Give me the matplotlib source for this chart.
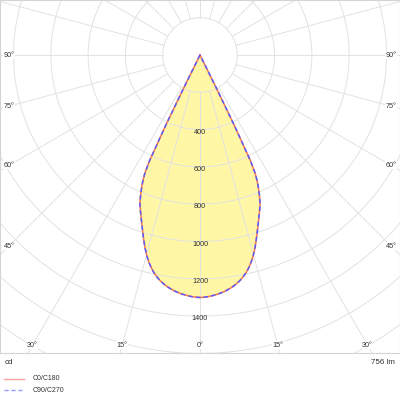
"""
Polar light distribution curve (LDC) of a narrow beam luminaire, drawn on a plain
cartesian axes so the diagram centre can sit near the top of the picture.
"""
import numpy as np
import matplotlib.pyplot as plt

# luminous intensity (cd) against angle from nadir (deg)
angles = [0, 1, 2, 3, 4, 5, 6, 7, 8, 9, 10, 11, 12, 13, 14, 15, 16, 17, 18, 19, 20,
          21, 22, 23, 24, 24.5, 25, 25.5, 26, 26.3, 26.5]
c0_c180 = [1300, 1299, 1296, 1292, 1287, 1281, 1274, 1265, 1255, 1243, 1229, 1212, 1192,
           1168, 1140, 1108, 1072, 1033, 995, 958, 924, 892, 860, 815, 765, 735, 700,
           630, 420, 200, 0]
c90_c270 = [1300, 1299, 1296, 1292, 1287, 1281, 1274, 1265, 1255, 1243, 1229, 1212, 1192,
            1168, 1140, 1108, 1072, 1033, 995, 958, 924, 892, 860, 815, 765, 735, 700,
            630, 420, 200, 0]

ring_values = [200, 400, 600, 800, 1000, 1200, 1400, 1600, 1800, 2000, 2200]
ring_labels = [400, 600, 800, 1000, 1200, 1400]
side_labels = [90, 75, 60, 45]
bottom_labels = [30, 15, 0]
series_names = ["C0/C180", "C90/C270"]
flux_text = "756 lm"
unit_text = "cd"

# pixels per candela
SCALE = 0.1865
GRID = "#e2e2e2"
TXT = "#333333"


def to_xy(ang, val):
    """mirror the half curve and turn polar (deg from nadir, cd) into x, y"""
    a = np.radians(np.concatenate([-np.array(ang[::-1]), np.array(ang[1:])]))
    v = np.concatenate([np.array(val[::-1]), np.array(val[1:])])
    return v * np.sin(a), -v * np.cos(a)


def draw_grid(ax):
    t = np.linspace(0, 2 * np.pi, 721)
    for r in ring_values:
        ax.plot(r * np.sin(t), r * np.cos(t), color=GRID, lw=0.7, zorder=2)
    for deg in range(0, 360, 15):
        a = np.radians(deg)
        ax.plot([200 * np.sin(a), 2400 * np.sin(a)], [-200 * np.cos(a), -2400 * np.cos(a)],
                color=GRID, lw=0.7, zorder=2)


def main():
    plt.rcParams['font.family'] = ['Liberation Sans', 'DejaVu Sans']
    fig = plt.figure(figsize=(4, 4), dpi=100)
    ax = fig.add_axes([0, 47 / 400, 1, 353 / 400])
    ax.set_xlim(-200 / SCALE, 200 / SCALE)
    ax.set_ylim(-298 / SCALE, 55 / SCALE)
    ax.set_aspect('equal')
    ax.set_xticks([])
    ax.set_yticks([])
    for sp in ax.spines.values():
        sp.set_color("#d4d4d4")
        sp.set_linewidth(0.8)

    draw_grid(ax)

    x0, y0 = to_xy(angles, c0_c180)
    x9, y9 = to_xy(angles, c90_c270)
    ax.fill(x0, y0, color="#fff7a6", lw=0, zorder=1)
    ax.plot(x0, y0, color="#f87848", lw=1.1, zorder=3)
    ax.plot(x9, y9, color="#5b5bff", lw=1.1, ls=(0, (3, 2)), zorder=4)

    # ring values down the 0 deg line
    for v in ring_labels:
        ax.text(0, -(v + 14), str(v), fontsize=5.2, color=TXT, ha='center', va='center', zorder=5)

    # angle labels along the sides and the bottom edge
    xs = 191 / SCALE
    for deg in side_labels:
        yy = -xs / np.tan(np.radians(deg)) if deg != 90 else 0
        for sgn in (-1, 1):
            ax.text(sgn * xs, yy, f"{deg}°", fontsize=5.2, color=TXT, ha='center', va='center',
                    zorder=5, bbox=dict(fc='white', ec='none', pad=0.3))
    yb = -290 / SCALE
    for deg in bottom_labels:
        xx = -yb * np.tan(np.radians(deg))
        for sgn in ((-1, 1) if deg else (1,)):
            ax.text(sgn * xx, yb, f"{deg}°", fontsize=5.2, color=TXT, ha='center', va='center',
                    zorder=5, bbox=dict(fc='white', ec='none', pad=0.3))

    # footer: unit, flux and legend
    fig.text(5 / 400, 1 - 362 / 400, unit_text, fontsize=5.8, color=TXT, va='center')
    fig.text(395 / 400, 1 - 362 / 400, flux_text, fontsize=5.8, color=TXT, va='center', ha='right')
    styles = [dict(color="#ffa0a0", ls='-'), dict(color="#9a9aff", ls=(0, (3, 2)))]
    for i, name in enumerate(series_names):
        yy = 1 - (379 + 11 * i) / 400
        fig.add_artist(plt.Line2D([4 / 400, 24 / 400], [yy, yy], lw=1, **styles[i]))
        fig.text(33 / 400, yy, name, fontsize=5, color=TXT, va='center')

    fig.savefig("out.png", dpi=100)


main()
